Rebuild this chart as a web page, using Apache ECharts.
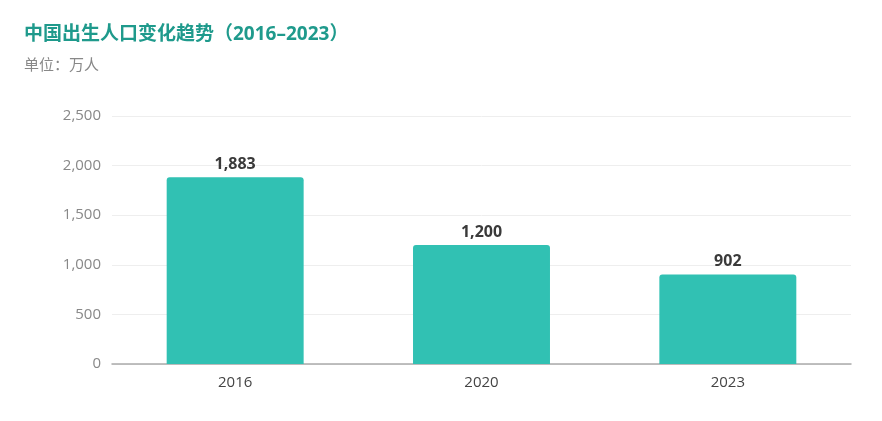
<!DOCTYPE html>
<html><head><meta charset="utf-8">
<script src="https://cdn.jsdelivr.net/npm/echarts@6/dist/echarts.min.js"></script>
<style>html,body{margin:0;padding:0;background:#fff}#c{width:882px;height:421px}</style>
</head><body><div id="c"></div>
<script>
const categories = ['2016', '2020', '2023'];
const births = [1883, 1200, 902];
const yTicks = [0, 500, 1000, 1500, 2000, 2500];

const chart = echarts.init(document.getElementById('c'), null, {renderer: 'canvas'});
const font = '"Open Sans", "Noto Sans CJK SC", sans-serif';
chart.setOption({
  backgroundColor: '#fff',
  animation: false,
  title: [{
    text: '中国出生人口变化趋势（2016–2023）',
    left: 19, top: 20,
    textStyle: {color: '#1f9a8c', fontSize: 19, fontWeight: 'bold', fontFamily: font}
  }, {
    text: '单位：万人',
    left: 19, top: 53,
    textStyle: {color: '#888', fontSize: 15, fontWeight: 'normal', fontFamily: font}
  }],
  grid: {left: 112, right: 31, top: 116, bottom: 57},
  xAxis: {
    type: 'category', data: categories,
    axisLine: {lineStyle: {color: '#aaa', width: 1.5}},
    axisTick: {show: false},
    axisLabel: {color: '#444', fontSize: 15, margin: 11, fontFamily: font}
  },
  yAxis: {
    type: 'value', min: yTicks[0], max: yTicks[yTicks.length - 1], interval: 500,
    axisLine: {show: false}, axisTick: {show: false},
    splitLine: {lineStyle: {color: '#eee'}},
    axisLabel: {color: '#888', fontSize: 15, margin: 11, fontFamily: font,
      formatter: v => v.toLocaleString('en-US')}
  },
  series: [{
    type: 'bar', data: births, barWidth: '55.6%',
    itemStyle: {color: '#31c1b3', borderRadius: [3, 3, 0, 0]},
    label: {show: true, position: 'top', distance: 5, color: '#3a3a3a', fontSize: 16, fontWeight: 'bold', fontFamily: font,
      formatter: p => p.value.toLocaleString('en-US')}
  }]
});
</script></body></html>
